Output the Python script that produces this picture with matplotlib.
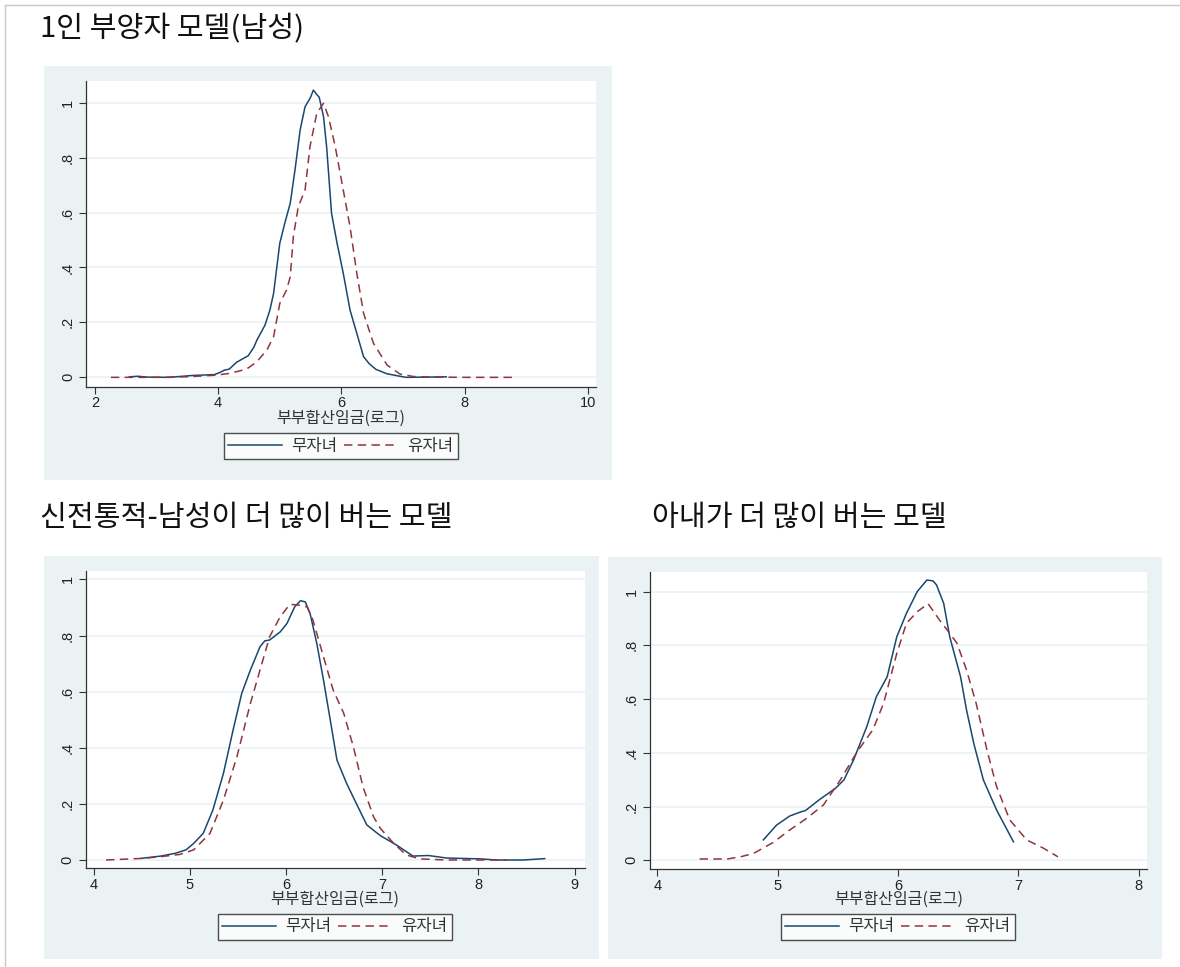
import matplotlib
matplotlib.use("Agg")
import matplotlib.pyplot as plt
from matplotlib.patches import Rectangle
from matplotlib.lines import Line2D

KR = ["Noto Sans CJK KR", "DejaVu Sans"]
plt.rcParams["font.family"] = ["Liberation Sans", "DejaVu Sans"]

NAVY = "#1a476f"
MAROON = "#90353b"
BG = "#eaf2f3"

titles = ["1인 부양자 모델(남성)", "신전통적-남성이 더 많이 버는 모델", "아내가 더 많이 버는 모델"]
xlabel = "부부합산임금(로그)"
legend_labels = ["무자녀", "유자녀"]
yticks = [0, 0.2, 0.4, 0.6, 0.8, 1.0]
ytick_labels = ["0", ".2", ".4", ".6", ".8", "1"]

# panel 1: 1인 부양자 모델(남성)
p1_none_x = [2.56, 2.70, 2.85, 3.20, 3.59, 3.94, 4.03, 4.10, 4.18, 4.30, 4.49, 4.58, 4.63, 4.76,
             4.84, 4.90, 5.00, 5.08, 5.17, 5.25, 5.33, 5.41, 5.46, 5.50, 5.545, 5.60, 5.64, 5.71,
             5.76, 5.84, 5.93, 6.03, 6.14, 6.25, 6.36, 6.45, 6.56, 6.74, 6.95, 7.05, 7.40, 7.70]
p1_none_y = [0.002, 0.004, 0.001, 0.0, 0.007, 0.010, 0.018, 0.026, 0.030, 0.055, 0.079, 0.11, 0.136, 0.19,
             0.245, 0.306, 0.488, 0.56, 0.634, 0.76, 0.90, 0.985, 1.004, 1.02, 1.046, 1.03, 1.02, 0.949,
             0.84, 0.597, 0.488, 0.379, 0.245, 0.16, 0.075, 0.05, 0.029, 0.013, 0.004, 0.0, 0.001, 0.002]
p1_kids_x = [2.26, 3.0, 3.48, 3.97, 4.20, 4.46, 4.62, 4.79, 4.90, 5.00, 5.11, 5.17, 5.22, 5.30, 5.41,
             5.49, 5.60, 5.71, 5.79, 5.90, 5.98, 6.14, 6.25, 6.36, 6.52, 6.74, 6.95, 7.17, 7.5, 8.0, 8.78]
p1_kids_y = [0.0, 0.0, 0.002, 0.008, 0.015, 0.030, 0.055, 0.099, 0.148, 0.269, 0.318, 0.366, 0.512, 0.621, 0.682,
             0.84, 0.961, 0.998, 0.949, 0.84, 0.743, 0.548, 0.379, 0.233, 0.124, 0.045, 0.012, 0.003, 0.001, 0.0, 0.0]

# panel 2: 신전통적-남성이 더 많이 버는 모델
p2_none_x = [4.50, 4.70, 4.85, 4.96, 5.04, 5.14, 5.24, 5.35, 5.45, 5.54, 5.63, 5.73, 5.78, 5.83, 5.94,
             6.01, 6.09, 6.15, 6.20, 6.25, 6.32, 6.39, 6.46, 6.53, 6.63, 6.73, 6.84, 6.98, 7.15, 7.32,
             7.48, 7.67, 8.02, 8.19, 8.47, 8.69]
p2_none_y = [0.006, 0.014, 0.024, 0.036, 0.059, 0.095, 0.178, 0.309, 0.463, 0.594, 0.677, 0.76, 0.781, 0.784, 0.813,
             0.843, 0.902, 0.924, 0.92, 0.879, 0.772, 0.641, 0.499, 0.356, 0.273, 0.202, 0.125, 0.087, 0.053, 0.014,
             0.016, 0.007, 0.004, 0.0, 0.0, 0.005]
p2_kids_x = [4.13, 4.52, 4.70, 4.90, 5.04, 5.21, 5.35, 5.49, 5.63, 5.73, 5.83, 5.94, 6.04, 6.15, 6.22,
             6.28, 6.39, 6.49, 6.60, 6.70, 6.80, 6.91, 6.98, 7.12, 7.25, 7.39, 7.67, 8.29]
p2_kids_y = [0.0, 0.006, 0.012, 0.02, 0.036, 0.095, 0.214, 0.368, 0.558, 0.677, 0.796, 0.867, 0.911, 0.908, 0.902,
             0.855, 0.724, 0.606, 0.523, 0.404, 0.261, 0.154, 0.113, 0.059, 0.018, 0.004, 0.0, 0.0]

# panel 3: 아내가 더 많이 버는 모델
p3_none_x = [4.88, 4.99, 5.10, 5.19, 5.23, 5.35, 5.48, 5.55, 5.63, 5.74, 5.82, 5.91, 5.99, 6.07, 6.16,
             6.24, 6.29, 6.32, 6.38, 6.43, 6.52, 6.57, 6.63, 6.71, 6.82, 6.96]
p3_none_y = [0.076, 0.131, 0.165, 0.18, 0.185, 0.227, 0.268, 0.299, 0.373, 0.497, 0.609, 0.683, 0.832, 0.919, 1.0,
             1.043, 1.04, 1.025, 0.956, 0.832, 0.683, 0.559, 0.435, 0.299, 0.187, 0.069]
p3_kids_x = [4.35, 4.58, 4.69, 4.80, 4.96, 5.10, 5.24, 5.38, 5.52, 5.66, 5.79, 5.88, 5.99, 6.07, 6.16,
             6.25, 6.35, 6.43, 6.49, 6.57, 6.65, 6.74, 6.82, 6.93, 7.07, 7.21, 7.33]
p3_kids_y = [0.005, 0.005, 0.013, 0.026, 0.066, 0.113, 0.156, 0.206, 0.299, 0.404, 0.485, 0.584, 0.77, 0.882, 0.925,
             0.955, 0.891, 0.845, 0.808, 0.708, 0.584, 0.41, 0.274, 0.15, 0.076, 0.045, 0.013]

W, H = 1180, 967
fig = plt.figure(figsize=(W / 100, H / 100), dpi=100)
fig.patch.set_facecolor("white")


def fx(px):
    return px / W


def fy(py):
    return 1 - py / H


# thin page border at top/left
fig.add_artist(Line2D([fx(5), 1], [fy(5), fy(5)], color="#c8c8c8", lw=1))
fig.add_artist(Line2D([fx(5), fx(5)], [fy(5), 0], color="#c8c8c8", lw=1))

panels = [
    dict(bg=(43.5, 65.7, 612, 480), ax=(86.2, 81, 596, 386.7), xlim=(1.86, 10.13), ylim=(-0.034, 1.079),
         xticks=[2, 4, 6, 8, 10], title=(40, 29), xl=418, leg=(341, 446),
         none=(p1_none_x, p1_none_y), kids=(p1_kids_x, p1_kids_y)),
    dict(bg=(44.3, 556, 599, 959), ax=(85.7, 570.7, 584.6, 868.3), xlim=(3.918, 9.104), ylim=(-0.0296, 1.031),
         xticks=[4, 5, 6, 7, 8, 9], title=(40, 518), xl=899, leg=(335, 927),
         none=(p2_none_x, p2_none_y), kids=(p2_kids_x, p2_kids_y)),
    dict(bg=(608, 556.7, 1162, 959), ax=(649.8, 571.7, 1147.3, 869), xlim=(3.936, 8.073), ylim=(-0.0323, 1.074),
         xticks=[4, 5, 6, 7, 8], title=(652, 518), xl=899, leg=(898, 927),
         none=(p3_none_x, p3_none_y), kids=(p3_kids_x, p3_kids_y)),
]

for i, p in enumerate(panels):
    x0, y0, x1, y1 = p["bg"]
    fig.add_artist(Rectangle((fx(x0), fy(y1)), fx(x1 - x0), (y1 - y0) / H,
                             facecolor=BG, edgecolor="none", zorder=0))
    a0, b0, a1, b1 = p["ax"]
    ax = fig.add_axes([fx(a0), fy(b1), fx(a1 - a0), (b1 - b0) / H])
    ax.set_facecolor("white")
    ax.set_xlim(*p["xlim"])
    ax.set_ylim(*p["ylim"])
    for yv in yticks:
        ax.axhline(yv, color=BG, lw=1.2, zorder=1)
    l1, = ax.plot(*p["none"], color=NAVY, lw=1.1, zorder=3)
    l2, = ax.plot(*p["kids"], color=MAROON, lw=1.1, dashes=(5.5, 3.5), zorder=3)
    ax.set_xticks(p["xticks"])
    ax.set_xticklabels([str(t) for t in p["xticks"]])
    ax.set_yticks(yticks)
    ax.set_yticklabels(ytick_labels, rotation=90, va="center")
    ax.tick_params(axis="both", direction="out", length=5, width=0.8, color="#333333",
                   labelsize=10.5, labelcolor="#222222", pad=3)
    ax.tick_params(axis="x", pad=2)
    for s in ["top", "right"]:
        ax.spines[s].set_visible(False)
    for s in ["left", "bottom"]:
        ax.spines[s].set_color("#333333")
        ax.spines[s].set_linewidth(0.9)

    fig.text(fx((a0 + a1) / 2), fy(p["xl"]), xlabel, family=KR, fontsize=11.5,
             color="#333333", ha="center", va="center")
    fig.text(fx(p["title"][0]), fy(p["title"][1]), titles[i], family=KR, fontsize=21,
             color="#111111", ha="left", va="center")
    leg = fig.legend([l1, l2], legend_labels, loc="center", ncol=2,
                     bbox_to_anchor=(fx(p["leg"][0]), fy(p["leg"][1])), bbox_transform=fig.transFigure,
                     prop={"family": KR, "size": 12}, frameon=True, fancybox=False,
                     handlelength=3.2, handletextpad=0.6, columnspacing=0.4,
                     borderpad=0.25, borderaxespad=0)
    leg.get_frame().set_edgecolor("#222222")
    leg.get_frame().set_linewidth(1.0)
    for t in leg.get_texts():
        t.set_color("#333333")

fig.savefig("out.png", dpi=100, facecolor="white")
